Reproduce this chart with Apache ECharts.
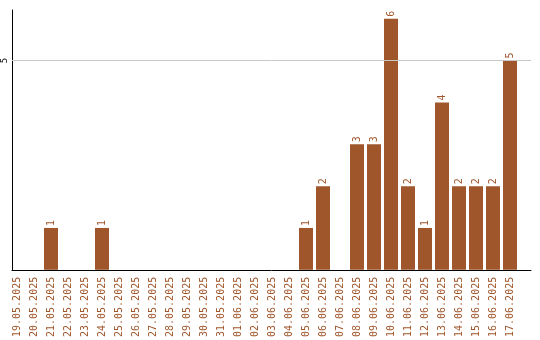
<!DOCTYPE html>
<html><head><meta charset="utf-8">
<script src="https://cdn.jsdelivr.net/npm/echarts@6/dist/echarts.min.js"></script>
<style>html,body{margin:0;padding:0;background:#fff}#c{width:540px;height:340px}</style>
</head><body><div id="c"></div>
<script>
const categories = ['19.05.2025','20.05.2025','21.05.2025','22.05.2025','23.05.2025','24.05.2025','25.05.2025','26.05.2025','27.05.2025','28.05.2025','29.05.2025','30.05.2025','31.05.2025','01.06.2025','02.06.2025','03.06.2025','04.06.2025','05.06.2025','06.06.2025','07.06.2025','08.06.2025','09.06.2025','10.06.2025','11.06.2025','12.06.2025','13.06.2025','14.06.2025','15.06.2025','16.06.2025','17.06.2025'];
const counts = [0,0,1,0,0,1,0,0,0,0,0,0,0,0,0,0,0,1,2,0,3,3,6,2,1,4,2,2,2,5];
const yTicks = [5];

const YMAX = 6.21;
const C = '#A0562B';
const chart = echarts.init(document.getElementById('c'), null, {renderer:'canvas'});
chart.setOption({
  animation:false,
  backgroundColor:'#fff',
  grid:[
    {left:8.5, right:21.5, top:10, bottom:70},
    {left:11, right:9, top:10, bottom:70}
  ],
  xAxis:[
    {type:'category', gridIndex:0, data:categories, boundaryGap:true,
     axisLine:{show:false}, axisTick:{show:false},
     axisLabel:{rotate:90, interval:0, margin:7, color:C, fontFamily:'DejaVu Sans Mono', fontSize:10}},
    {type:'value', gridIndex:1, min:0, max:1, show:true,
     axisLine:{show:true, lineStyle:{color:'#000', width:1}}, axisTick:{show:false},
     axisLabel:{show:false}, splitLine:{show:false}}
  ],
  yAxis:[
    {type:'value', gridIndex:0, min:0, max:YMAX, show:false},
    {type:'value', gridIndex:1, min:0, max:YMAX, interval:5,
     axisLine:{show:true, lineStyle:{color:'#000', width:1}}, axisTick:{show:false},
     axisLabel:{rotate:90, margin:3, color:'#000', fontFamily:'DejaVu Sans Mono', fontSize:9,
       formatter:v=> yTicks.includes(v)? String(v):''},
     splitLine:{show:false}}
  ],
  series:[{
    type:'bar', xAxisIndex:0, yAxisIndex:0, data:counts, barWidth:14,
    itemStyle:{color:C},
    label:{show:true, position:'top', rotate:90, align:'left', verticalAlign:'middle', distance:2,
      color:C, fontFamily:'DejaVu Sans Mono', fontSize:10,
      formatter:p=> p.value>0? String(p.value):''}
  },{
    type:'line', xAxisIndex:1, yAxisIndex:1, data:[], silent:true,
    markLine:{silent:true, symbol:'none', label:{show:false},
      lineStyle:{color:'#c8c8c8', width:1, type:'solid'},
      data: yTicks.map(v=>({yAxis:v}))}
  }]
});
</script></body></html>
